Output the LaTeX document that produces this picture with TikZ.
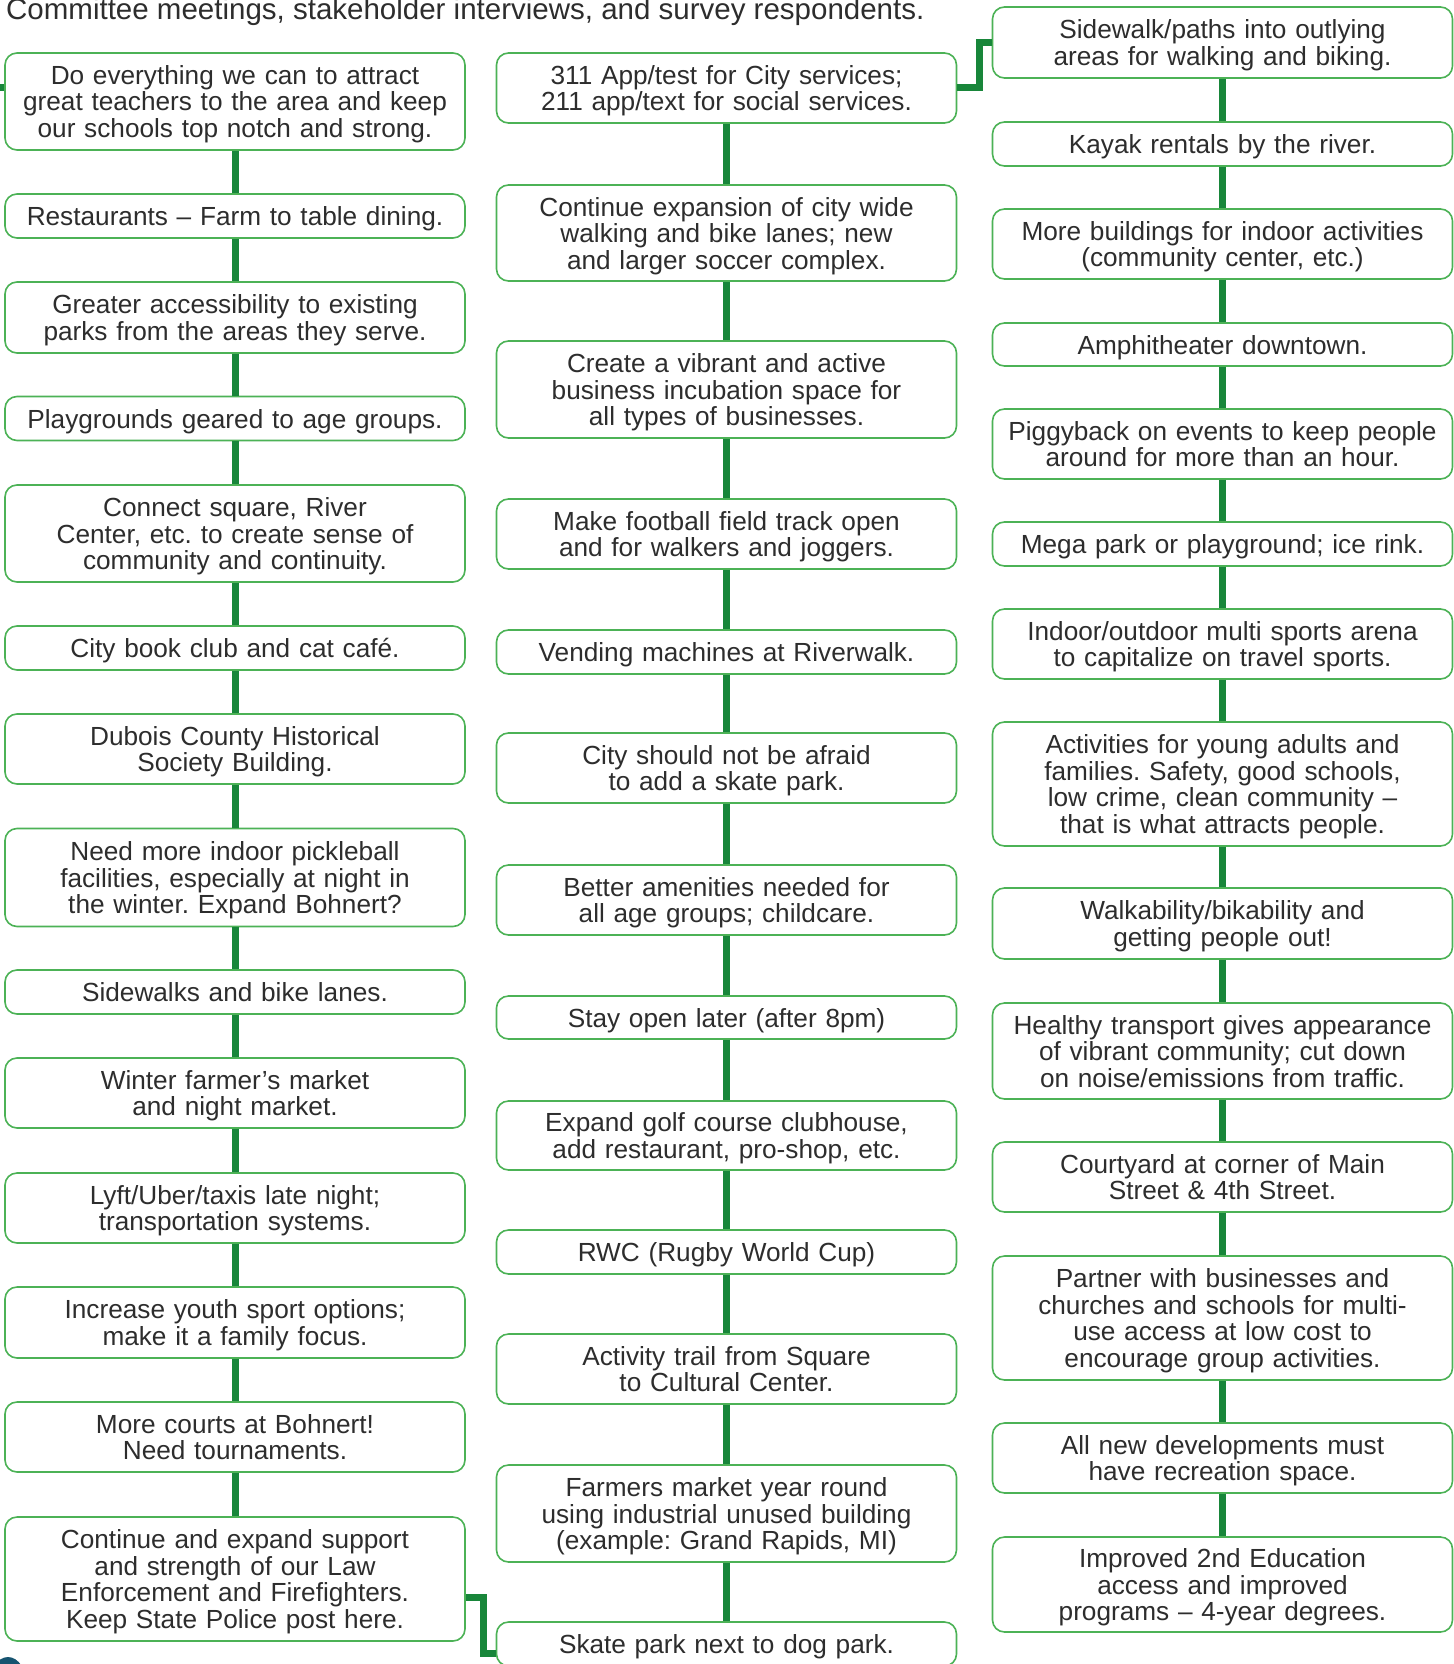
\documentclass[tikz,border=0pt]{standalone}
\usepackage{fontspec}
\setmainfont{Liberation Sans}
\usetikzlibrary{calc}
\definecolor{linegreen}{RGB}{24,134,58}
\definecolor{boxgreen}{RGB}{76,178,86}
\definecolor{txt}{RGB}{45,45,45}
\definecolor{logoblue}{RGB}{22,84,112}
\frenchspacing
\tikzset{
  card/.style={draw=boxgreen, line width=1.6pt, rounded corners=12pt, fill=white,
    text=txt, align=center, text width=456pt, inner sep=0pt, minimum width=460pt,
    font=\fontsize{26.2}{26.5}\selectfont\frenchspacing,
    execute at begin node={\rule{0pt}{25pt}},
    execute at end node={\rule[-6pt]{0pt}{0pt}}},
  link/.style={draw=linegreen, line width=7pt, line join=miter},
  ttl/.style={text=txt, inner sep=0pt, font=\fontsize{29.5}{30}\selectfont}
}
\begin{document}
\begin{tikzpicture}[x=1pt,y=-1pt]
\useasboundingbox (0,0) rectangle (1453,1664);
\fill[white] (0,0) rectangle (1453,1664);

\node[ttl, anchor=base west] (title) at (6,19.5) {Committee meetings, stakeholder interviews, and survey respondents.};

% Left column
\node[card, minimum height=97pt] (L1) at (235,101.5) {Do everything we can to attract\\great teachers to the area and keep\\our schools top notch and strong.};
\node[card, minimum height=44pt] (L2) at (235,216) {Restaurants – Farm to table dining.};
\node[card, minimum height=71pt] (L3) at (235,317.5) {Greater accessibility to existing\\parks from the areas they serve.};
\node[card, minimum height=44pt] (L4) at (235,418.5) {Playgrounds geared to age groups.};
\node[card, minimum height=97pt] (L5) at (235,533.5) {Connect square, River\\Center, etc. to create sense of\\community and continuity.};
\node[card, minimum height=44pt] (L6) at (235,648) {City book club and cat café.};
\node[card, minimum height=70pt] (L7) at (235,749) {Dubois County Historical\\Society Building.};
\node[card, minimum height=98pt] (L8) at (235,877.5) {Need more indoor pickleball\\facilities, especially at night in\\the winter. Expand Bohnert?};
\node[card, minimum height=44pt] (L9) at (235,992) {Sidewalks and bike lanes.};
\node[card, minimum height=70pt] (L10) at (235,1093) {Winter farmer’s market\\and night market.};
\node[card, minimum height=70pt] (L11) at (235,1208) {Lyft/Uber/taxis late night;\\transportation systems.};
\node[card, minimum height=71pt] (L12) at (235,1322.5) {Increase youth sport options;\\make it a family focus.};
\node[card, minimum height=70pt] (L13) at (235,1437) {More courts at Bohnert!\\Need tournaments.};
\node[card, minimum height=124pt] (L14) at (235,1579) {Continue and expand support\\and strength of our Law\\Enforcement and Firefighters.\\Keep State Police post here.};

% Middle column
\node[card, minimum height=70pt] (M1) at (726.5,88) {311 App/test for City services;\\211 app/text for social services.};
\node[card, minimum height=96pt] (M2) at (726.5,233) {Continue expansion of city wide\\walking and bike lanes; new\\and larger soccer complex.};
\node[card, minimum height=97pt] (M3) at (726.5,389.5) {Create a vibrant and active\\business incubation space for\\all types of businesses.};
\node[card, minimum height=70pt] (M4) at (726.5,534) {Make football field track open\\and for walkers and joggers.};
\node[card, minimum height=44pt] (M5) at (726.5,652) {Vending machines at Riverwalk.};
\node[card, minimum height=70pt] (M6) at (726.5,768) {City should not be afraid\\to add a skate park.};
\node[card, minimum height=70pt] (M7) at (726.5,900) {Better amenities needed for\\all age groups; childcare.};
\node[card, minimum height=43pt] (M8) at (726.5,1017.5) {Stay open later (after 8pm)};
\node[card, minimum height=69pt] (M9) at (726.5,1135.5) {Expand golf course clubhouse,\\add restaurant, pro-shop, etc.};
\node[card, minimum height=44pt] (M10) at (726.5,1252) {RWC (Rugby World Cup)};
\node[card, minimum height=70pt] (M11) at (726.5,1369) {Activity trail from Square\\to Cultural Center.};
\node[card, minimum height=97pt] (M12) at (726.5,1513.5) {Farmers market year round\\using industrial unused building\\(example: Grand Rapids, MI)};
\node[card, minimum height=44pt] (M13) at (726.5,1644) {Skate park next to dog park.};

% Right column
\node[card, minimum height=71pt] (R1) at (1222.5,42.5) {Sidewalk/paths into outlying\\areas for walking and biking.};
\node[card, minimum height=44pt] (R2) at (1222.5,144) {Kayak rentals by the river.};
\node[card, minimum height=70pt] (R3) at (1222.5,244) {More buildings for indoor activities\\(community center, etc.)};
\node[card, minimum height=43pt] (R4) at (1222.5,344.5) {Amphitheater downtown.};
\node[card, minimum height=70pt] (R5) at (1222.5,444) {Piggyback on events to keep people\\around for more than an hour.};
\node[card, minimum height=44pt] (R6) at (1222.5,544) {Mega park or playground; ice rink.};
\node[card, minimum height=70pt] (R7) at (1222.5,644) {Indoor/outdoor multi sports arena\\to capitalize on travel sports.};
\node[card, minimum height=124pt] (R8) at (1222.5,784) {Activities for young adults and\\families. Safety, good schools,\\low crime, clean community –\\that is what attracts people.};
\node[card, minimum height=71pt] (R9) at (1222.5,923.5) {Walkability/bikability and\\getting people out!};
\node[card, minimum height=96pt] (R10) at (1222.5,1051) {Healthy transport gives appearance\\of vibrant community; cut down\\on noise/emissions from traffic.};
\node[card, minimum height=70pt] (R11) at (1222.5,1177) {Courtyard at corner of Main\\Street \& 4th Street.};
\node[card, minimum height=124pt] (R12) at (1222.5,1318) {Partner with businesses and\\churches and schools for multi-\\use access at low cost to\\encourage group activities.};
\node[card, minimum height=70pt] (R13) at (1222.5,1458) {All new developments must\\have recreation space.};
\node[card, minimum height=95pt] (R14) at (1222.5,1584.5) {Improved 2nd Education\\access and improved\\programs – 4-year degrees.};

% vertical links
\foreach \i in {1,...,13}{
  \pgfmathtruncatemacro\j{\i+1}
  \draw[link] (L\i.south) -- (L\j.north);
  \draw[link] (R\i.south) -- (R\j.north);
}
\foreach \i in {1,...,12}{
  \pgfmathtruncatemacro\j{\i+1}
  \draw[link] (M\i.south) -- (M\j.north);
}

% cross links
\coordinate (stub) at (0,88);
\draw[link] (stub) -- (stub -| L1.west);
\draw[link] (M1.east) -- ++(22,0) |- (R1.west);
\coordinate (bend) at (483,1597);
\draw[link] (L14.east |- bend) -- (bend) |- ($(M13.west)+(0,9)$);

% partial logo at lower left
\fill[logoblue] (8,1686) ellipse [x radius=19, y radius=29];
\end{tikzpicture}
\end{document}
